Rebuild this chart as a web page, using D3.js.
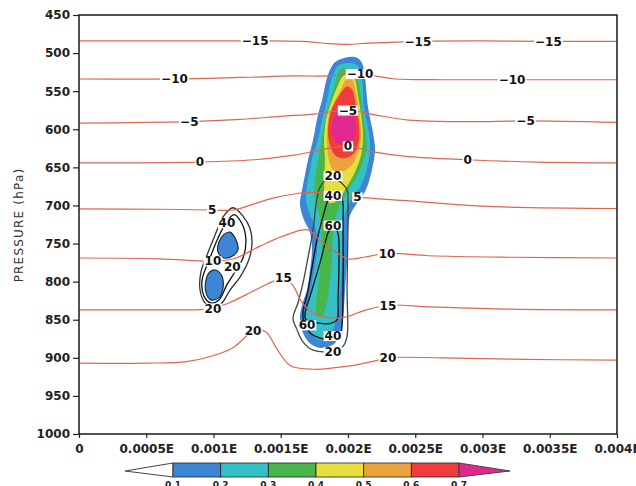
<!DOCTYPE html>
<html><head><meta charset="utf-8">
<script src="https://cdn.jsdelivr.net/npm/d3@7"></script>
<style>
html,body{margin:0;padding:0;background:#fff;}
svg{display:block;}
text{font-family:"DejaVu Sans",sans-serif;}
</style></head><body>
<svg id="chart" width="636" height="486"></svg>
<script>
// Units: longitude in 1e-3 degrees East, pressure in hPa
const pressureTicks = [450,500,550,600,650,700,750,800,850,900,950,1000];
const lonTicks = [0,0.5,1,1.5,2,2.5,3,3.5,4];
const lonTickLabels = ["0","0.0005E","0.001E","0.0015E","0.002E","0.0025E","0.003E","0.0035E","0.004E"];
const cloudLevels = [0.1,0.2,0.3,0.4,0.5,0.6,0.7];

// Temperature isotherms (°C): [lon, pressure]
const isoM15 = [[0,484],[0.6,484],[1.31,484],[1.7,485],[1.85,487.5],[2.0,488.5],[2.15,487],[2.52,484.5],[3.0,484],[3.49,484.5],[4,484.5]];
const isoM10 = [[0,534],[0.71,534],[1.2,532],[1.6,530],[1.85,530],[2.09,527],[2.2,530],[2.35,534],[2.7,535],[3.22,535],[4,535]];
const isoM5  = [[0,592],[0.82,590],[1.2,587],[1.5,583],[1.75,580],[2.0,575],[2.2,581],[2.45,588],[2.9,590],[3.32,589],[4,591]];
const isoT0  = [[0,644],[0.9,643],[1.3,640],[1.6,634],[1.8,627],[2.0,622],[2.2,630],[2.45,636],[2.89,640],[3.4,643],[4,644]];
const isoT5  = [[0,704.5],[0.6,705],[0.99,706],[1.15,706],[1.3,698],[1.45,690],[1.7,683],[1.9,685],[2.07,689],[2.46,694],[3.0,701],[4,704]];
const isoT10 = [[0,769],[0.6,770],[0.996,773],[1.15,770],[1.35,753],[1.55,738],[1.7,732],[1.78,744],[1.9,760],[2.0,770],[2.12,768],[2.29,763],[2.6,766],[3.2,768],[4,769]];
const isoT15 = [[0,837],[0.7,837],[0.95,836],[1.1,829],[1.3,812],[1.45,799],[1.52,795],[1.59,805],[1.66,828],[1.75,842],[1.85,847],[1.97,847],[2.12,838],[2.297,831],[2.6,833],[3.2,836],[4,837]];
const isoT20 = [[0,907],[0.5,907],[0.8,905],[1.0,897],[1.15,886],[1.24,872],[1.294,864],[1.39,866],[1.47,888],[1.57,910],[1.74,915],[2.0,911],[2.2,904],[2.297,900],[2.7,900],[3.3,902],[4,903]];

const isoLabelsM15 = [[1.31,484],[2.52,484.5],[3.49,484.5]];
const isoLabelsM10 = [[0.71,534],[2.09,527],[3.22,535]];
const isoLabelsM5  = [[0.82,590],[2.0,575],[3.32,589]];
const isoLabelsT0  = [[0.9,643],[2.0,622],[2.89,640]];
const isoLabelsT5  = [[0.99,706],[2.07,689]];
const isoLabelsT10 = [[0.996,773],[2.29,763]];
const isoLabelsT15 = [[1.52,795],[2.297,831]];
const isoLabelsT20 = [[1.294,864],[2.297,900]];

// Cloud water filled contours (g/kg): outline of region >= level
const cloud01Main = [[1.866,522],[1.903,512],[1.978,506],[2.067,506],[2.104,513],[2.126,531],[2.149,571],[2.186,605],[2.201,627],[2.178,653],[2.141,676],[2.112,686],[2.067,697],[2.015,713],[2.000,732],[1.993,772],[1.978,811],[1.963,850],[1.941,870],[1.888,883],[1.792,887],[1.717,881],[1.665,867],[1.643,848],[1.658,831],[1.695,811],[1.717,785],[1.732,758],[1.717,735],[1.673,719],[1.643,699],[1.658,680],[1.680,660],[1.703,640],[1.740,614],[1.777,581],[1.807,562],[1.836,538]];
const cloud01SmallA = [[1.123,735],[1.167,745],[1.182,758],[1.145,766],[1.078,769],[1.033,761],[1.041,748],[1.078,738]];
const cloud01SmallB = [[1.019,785],[1.063,793],[1.071,808],[1.041,821],[0.981,824],[0.944,814],[0.944,798],[0.974,787]];
const cloud02Main = [[1.888,529],[1.926,517],[2.000,513],[2.067,516],[2.104,535],[2.119,572],[2.156,605],[2.164,627],[2.141,651],[2.104,671],[2.052,686],[2.000,699],[1.970,719],[1.963,758],[1.948,798],[1.926,837],[1.888,863],[1.814,877],[1.732,870],[1.688,853],[1.688,835],[1.717,815],[1.747,787],[1.770,758],[1.762,732],[1.717,712],[1.688,693],[1.695,673],[1.717,653],[1.740,634],[1.777,614],[1.807,588],[1.844,562],[1.866,542]];
const cloud03Main = [[1.941,522],[2.000,520],[2.052,525],[2.089,548],[2.104,575],[2.134,607],[2.134,627],[2.104,647],[2.059,664],[2.000,680],[1.941,699],[1.896,726],[1.874,785],[1.837,831],[1.800,846],[1.766,843],[1.766,822],[1.792,785],[1.807,739],[1.785,712],[1.755,693],[1.752,673],[1.772,647],[1.799,621],[1.822,594],[1.859,568],[1.896,546]];
const cloud04Main = [[1.963,530],[2.015,526],[2.052,535],[2.074,555],[2.097,581],[2.112,608],[2.097,634],[2.052,656],[1.985,677],[1.926,693],[1.866,697],[1.829,686],[1.822,667],[1.829,640],[1.822,614],[1.836,588],[1.881,562],[1.926,542]];
const cloud05Main = [[1.985,535],[2.030,535],[2.059,551],[2.082,577],[2.097,608],[2.074,630],[2.030,647],[1.955,656],[1.888,653],[1.851,634],[1.844,608],[1.859,581],[1.903,562],[1.948,548]];
const cloud06Main = [[1.993,544],[2.030,548],[2.059,568],[2.082,594],[2.082,614],[2.052,630],[1.978,638],[1.903,634],[1.866,621],[1.851,601],[1.874,577],[1.926,558]];
const cloud07Main = [[1.888,588],[1.941,577],[2.015,579],[2.052,590],[2.059,602],[2.037,614],[1.978,621],[1.918,617],[1.881,606]];

// Reflectivity contours (dBZ), black lines
const refl20Main = [[1.792,676],[1.836,666],[1.888,663],[1.948,670],[1.993,679],[2.000,696],[2.000,725],[1.993,811],[1.993,872],[1.963,885],[1.888,891],[1.740,890],[1.665,879],[1.621,863],[1.591,848],[1.628,828],[1.665,802],[1.703,768],[1.740,732],[1.762,699],[1.777,684]];
const refl40Main = [[1.844,696],[1.874,687],[1.911,685],[1.948,687],[1.963,698],[1.963,723],[1.963,811],[1.955,859],[1.941,872],[1.888,876],[1.792,874],[1.717,867],[1.673,854],[1.665,841],[1.703,811],[1.770,745],[1.829,705]];
const refl60Main = [[1.851,736],[1.896,727],[1.926,737],[1.933,772],[1.926,824],[1.918,850],[1.866,855],[1.770,854],[1.688,850],[1.680,843],[1.732,811],[1.792,775],[1.836,745]];
const refl20Small = [[1.145,703],[1.219,714],[1.271,730],[1.286,752],[1.257,774],[1.197,794],[1.123,811],[1.063,828],[1.004,835],[0.937,828],[0.900,811],[0.907,787],[0.952,765],[1.011,739],[1.071,715]];
const refl40Small = [[1.152,712],[1.212,724],[1.241,745],[1.219,769],[1.160,787],[1.100,804],[1.041,824],[0.981,828],[0.929,819],[0.915,798],[0.967,772],[1.033,743],[1.093,723]];
const reflLabelValues = [20,40,60,60,40,20,40,20,20];
const reflLabelPos = [[1.888,661],[1.888,687],[1.888,726],[1.695,857],[1.888,871],[1.888,892],[1.100,723],[0.996,835],[1.14,781]];

// ---------- styles ----------
const fillColors = ["#3d86d6","#33c0c6","#48b648","#e6df3e","#eca23b","#ee3d3a","#e2278f"];
const isoColor = "#e0654f";

const svg = d3.select("#chart");
const W = 636, H = 486;
svg.append("rect").attr("width",W).attr("height",H).attr("fill","#fff");

const x = d3.scaleLinear().domain([0,4]).range([79,617]);
const y = d3.scaleLinear().domain([450,1000]).range([15,434]);

svg.append("defs").append("clipPath").attr("id","plotclip")
  .append("rect").attr("x",x(0)).attr("y",y(450)).attr("width",x(4)-x(0)).attr("height",y(1000)-y(450));

const plot = svg.append("g").attr("clip-path","url(#plotclip)");

const closed = d3.line().x(d=>x(d[0])).y(d=>y(d[1])).curve(d3.curveCatmullRomClosed.alpha(0.5));
const open = d3.line().x(d=>x(d[0])).y(d=>y(d[1])).curve(d3.curveCatmullRom.alpha(0.5));

// filled cloud
const fills = [
  {lev:0, pts:cloud01Main},{lev:0, pts:cloud01SmallA},{lev:0, pts:cloud01SmallB},
  {lev:1, pts:cloud02Main},{lev:2, pts:cloud03Main},{lev:3, pts:cloud04Main},
  {lev:4, pts:cloud05Main},{lev:5, pts:cloud06Main},{lev:6, pts:cloud07Main}
];
plot.selectAll("path.fill").data(fills).join("path").attr("class","fill")
  .attr("d",d=>closed(d.pts)).attr("fill",d=>fillColors[d.lev]).attr("stroke","none");

// small blob outlines
plot.selectAll("path.blob").data([cloud01SmallA,cloud01SmallB]).join("path").attr("class","blob")
  .attr("d",d=>closed(d)).attr("fill","none").attr("stroke","#1a2a44").attr("stroke-width",1.2);

// reflectivity contours
const refl = [
  {pts:refl20Main,c:"#444"},{pts:refl40Main,c:"#111"},{pts:refl60Main,c:"#111"},
  {pts:refl20Small,c:"#333"},{pts:refl40Small,c:"#111"}
];
plot.selectAll("path.refl").data(refl).join("path").attr("class","refl")
  .attr("d",d=>closed(d.pts)).attr("fill","none").attr("stroke",d=>d.c).attr("stroke-width",1.3);

// isotherms
const isotherms = [
  {t:-15,pts:isoM15,lab:isoLabelsM15},{t:-10,pts:isoM10,lab:isoLabelsM10},
  {t:-5,pts:isoM5,lab:isoLabelsM5},{t:0,pts:isoT0,lab:isoLabelsT0},
  {t:5,pts:isoT5,lab:isoLabelsT5},{t:10,pts:isoT10,lab:isoLabelsT10},
  {t:15,pts:isoT15,lab:isoLabelsT15},{t:20,pts:isoT20,lab:isoLabelsT20}
];
plot.selectAll("path.iso").data(isotherms).join("path").attr("class","iso")
  .attr("d",d=>open(d.pts)).attr("fill","none").attr("stroke",isoColor).attr("stroke-width",1.2);

// labels
const labelLayer = svg.append("g");
function addLabel(txt, px, py){
  const g = labelLayer.append("g");
  const r = g.append("rect").attr("fill","#fff");
  const t = g.append("text").attr("x",px).attr("y",py).attr("dy","0.36em")
    .attr("text-anchor","middle").attr("font-size",12).attr("font-weight","bold")
    .attr("fill","#111").text(txt);
  const b = t.node().getBBox();
  r.attr("x",b.x-1).attr("y",b.y+2).attr("width",b.width+2).attr("height",b.height-4);
}
reflLabelPos.forEach((p,i)=>addLabel(String(reflLabelValues[i]), x(p[0]), y(p[1])));
isotherms.forEach(d=>{
  d.lab.forEach(p=>addLabel(d.t<0 ? "\u2212"+Math.abs(d.t) : String(d.t), x(p[0]), y(p[1])));
});

// frame
svg.append("rect").attr("x",x(0)).attr("y",y(450)).attr("width",x(4)-x(0)).attr("height",y(1000)-y(450))
  .attr("fill","none").attr("stroke","#1a1a1a").attr("stroke-width",1.5);

// axes
const yAxis = svg.append("g").attr("transform",`translate(${x(0)},0)`)
  .call(d3.axisLeft(y).tickValues(pressureTicks).tickSize(6).tickSizeOuter(0).tickFormat(d3.format("d")));
yAxis.select(".domain").remove();
yAxis.selectAll("line").attr("stroke","#222").attr("stroke-width",1.2);
yAxis.selectAll("text").attr("font-size",12).attr("font-weight","bold").attr("fill","#222")
  .attr("font-family","DejaVu Sans");

const xAxis = svg.append("g").attr("transform",`translate(0,${y(1000)})`)
  .call(d3.axisBottom(x).tickValues(lonTicks).tickSize(4).tickSizeOuter(0).tickFormat((d,i)=>lonTickLabels[i]));
xAxis.select(".domain").remove();
xAxis.selectAll("line").attr("stroke","#222").attr("stroke-width",1.2);
xAxis.selectAll("text").attr("font-size",12).attr("font-weight","bold").attr("fill","#222")
  .attr("font-family","DejaVu Sans").attr("y",10);

// y title
svg.append("text").attr("transform","translate(23,225) rotate(-90)")
  .attr("text-anchor","middle").attr("font-size",12).attr("fill","#333")
  .attr("letter-spacing","1.2px").text("PRESSURE (hPa)");

// colorbar
const cb = d3.scaleLinear().domain([0.1,0.7]).range([173,459]);
const cbTop = 463, cbBot = 477, cbMid = 470;
const cbg = svg.append("g");
cbg.append("path").attr("d",`M${cb(0.1)},${cbTop}L125,${cbMid+1}L${cb(0.1)},${cbBot}Z`)
  .attr("fill","#fff").attr("stroke","#444").attr("stroke-width",1);
cbg.selectAll("rect.seg").data(d3.pairs(cloudLevels)).join("rect").attr("class","seg")
  .attr("x",d=>cb(d[0])).attr("y",cbTop).attr("width",d=>cb(d[1])-cb(d[0])).attr("height",cbBot-cbTop)
  .attr("fill",(d,i)=>fillColors[i]).attr("stroke","#222").attr("stroke-width",0.8);
cbg.append("path").attr("d",`M${cb(0.7)},${cbTop}L510,${cbMid+1}L${cb(0.7)},${cbBot}Z`)
  .attr("fill",fillColors[6]).attr("stroke","#444").attr("stroke-width",1);
cbg.selectAll("text").data(cloudLevels).join("text")
  .attr("x",d=>cb(d)).attr("y",488).attr("text-anchor","middle")
  .attr("font-size",9).attr("font-weight","bold").attr("fill","#222").text(d=>String(d));
</script>
</body></html>
